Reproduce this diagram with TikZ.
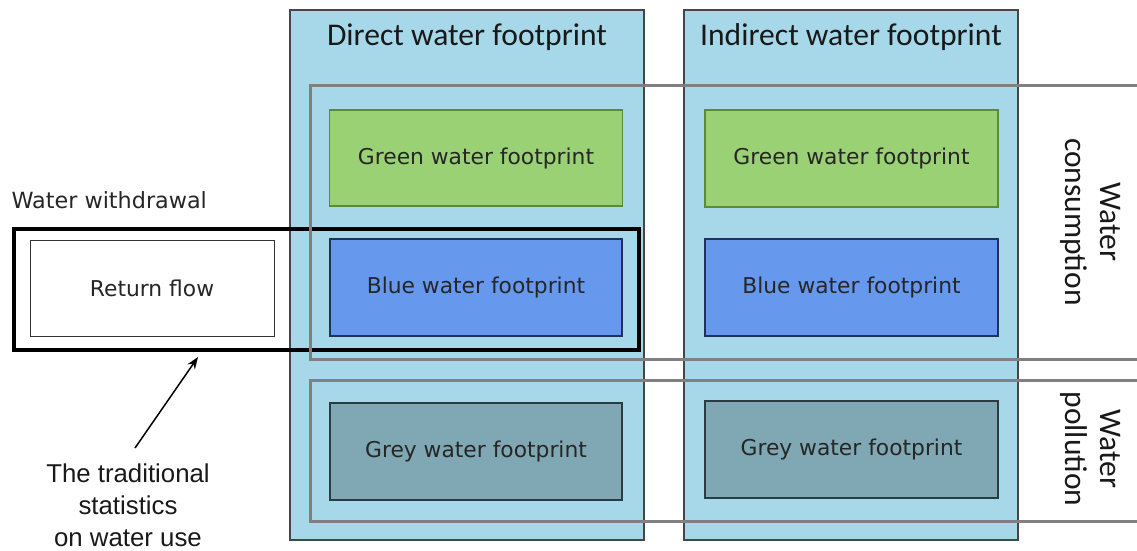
\documentclass[tikz,border=0pt]{standalone}
\usepackage{fontspec}
\usetikzlibrary{arrows.meta}
\setmainfont{Carlito}
\newfontfamily\verd{DejaVu Sans}
\newfontfamily\ari{Liberation Sans}
\definecolor{colfill}{RGB}{166,216,234}
\definecolor{colline}{RGB}{70,70,70}
\definecolor{greenf}{RGB}{155,209,117}
\definecolor{greend}{RGB}{90,140,50}
\definecolor{bluef}{RGB}{102,153,238}
\definecolor{blued}{RGB}{30,50,90}
\definecolor{greyf}{RGB}{127,168,180}
\definecolor{greyd}{RGB}{40,60,65}
\definecolor{bracket}{RGB}{128,128,128}
\begin{document}
\begin{tikzpicture}[x=1pt,y=-1pt,
  column/.style={draw=colline,line width=1.2pt,fill=colfill},
  fpbox/.style={line width=1.2pt,font=\verd\fontsize{21.8}{26}\selectfont,text=black!85},
  greenbox/.style={fpbox,draw=greend,fill=greenf},
  bluebox/.style={fpbox,draw=blued,fill=bluef},
  greybox/.style={fpbox,draw=greyd,fill=greyf},
  title/.style={font=\fontsize{31.6}{36}\selectfont,text=black!90},
  sidelabel/.style={font=\fontsize{31.5}{35}\selectfont,align=center,rotate=-90,text=black!90},
  bracketline/.style={draw=bracket,line width=3pt},
  withdraw/.style={draw=black,line width=3.5pt},
]
\useasboundingbox (0,0) rectangle (1137,550);
% columns
\draw[column] (290,10) rectangle (644,540);
\draw[column] (684,10) rectangle (1018,540);
\node[title] (dtitle) at (467,37) {Direct water footprint};
\node[title] (ititle) at (851,37) {Indirect water footprint};
% footprint boxes
\node[greenbox] (dgreen) at (476,158) [minimum width=293pt,minimum height=96pt] {Green water footprint};
\node[greenbox] (igreen) at (851.5,158.5) [minimum width=293pt,minimum height=97pt] {Green water footprint};
\node[bluebox] (dblue) at (476,287.5) [minimum width=292pt,minimum height=97pt] {Blue water footprint};
\node[bluebox] (iblue) at (851.5,287.5) [minimum width=293pt,minimum height=97pt] {Blue water footprint};
\node[greybox] (dgrey) at (476,451.5) [minimum width=292pt,minimum height=97pt] {Grey water footprint};
\node[greybox] (igrey) at (851.5,449.5) [minimum width=293pt,minimum height=97pt] {Grey water footprint};
% return flow
\node[fpbox,draw=black!80,fill=white,line width=1pt] (ret) at (152,288) [minimum width=244pt,minimum height=96pt] {Return flow};
% withdrawal box
\draw[withdraw] (14,229) rectangle (639,350);
\node[font=\verd\fontsize{22.3}{26}\selectfont,anchor=west,text=black!85] (wlab) at (8,200) {Water withdrawal};
% gray brackets
\draw[bracketline] (1140,85) -- (310,85) -- (310,359) -- (1140,359);
\draw[bracketline] (1140,380) -- (310,380) -- (310,521) -- (1140,521);
\node[sidelabel] (cons) at (1091,222) {Water\\consumption};
\node[sidelabel] (poll) at (1091,449) {Water\\pollution};
% traditional statistics
\node[font=\ari\fontsize{25.8}{32}\selectfont,align=center,text=black!90] (trad) at (128,505) {The traditional\\statistics\\on water use};
\coordinate (tail) at (135,448);
\coordinate (tip) at (198,357);
\draw[line width=1.5pt,-{Stealth[length=12pt,width=9pt]}] (tail) -- (tip);
\end{tikzpicture}
\end{document}
